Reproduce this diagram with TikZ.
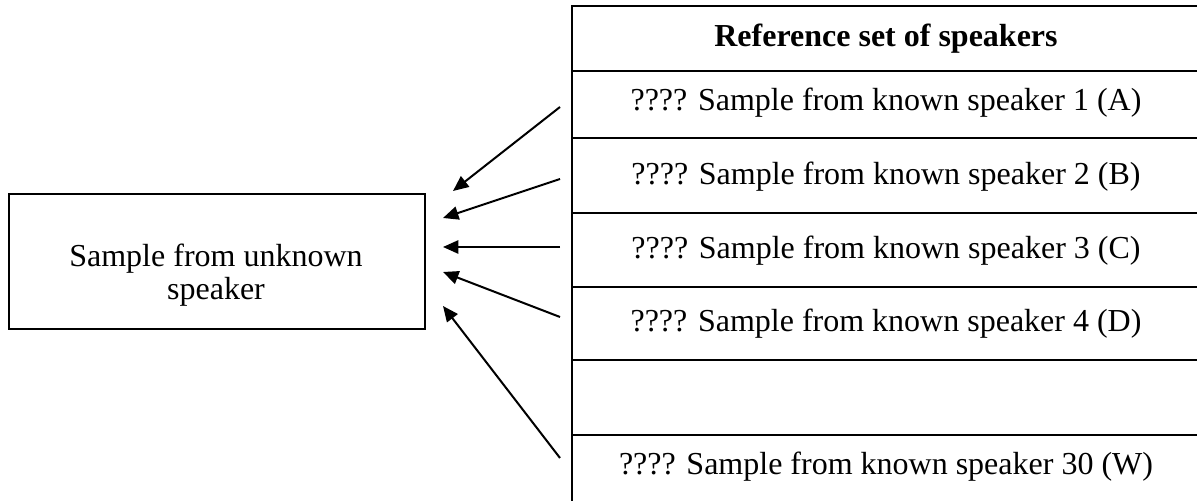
\documentclass[tikz,border=0pt]{standalone}
\usepackage{fontspec}
\setmainfont{Liberation Serif}
\usetikzlibrary{arrows.meta}
\begin{document}
\begin{tikzpicture}[x=0.375pt,y=-0.375pt,
  every node/.style={font=\fontsize{12}{12.6}\selectfont, inner sep=0pt},
  grid/.style={line width=0.9pt},
  boxline/.style={draw, line width=0.85pt},
  conn/.style={line width=0.75pt, -{Triangle[length=5.8pt,width=5pt]}},
  celltext/.style={anchor=base},
]
\useasboundingbox (0,0) rectangle (1197,501);
\fill[white] (0,0) rectangle (1197,501);
% reference table
\draw[grid] (1200,6) -- (572,6) -- (572,510);
\foreach \y in {71,138,213,287,360,435} \draw[grid] (572,\y) -- (1200,\y);
\draw[grid] (1200,6) -- (1200,510);
\node[celltext, font=\fontsize{12}{12.6}\selectfont\bfseries] (hdr) at (886,47) {Reference set of speakers};
\node[celltext] (ra) at (886,111) {???? Sample from known speaker 1 (A)};
\node[celltext] (rb) at (886,185) {???? Sample from known speaker 2 (B)};
\node[celltext] (rc) at (886,259) {???? Sample from known speaker 3 (C)};
\node[celltext] (rd) at (886,332) {???? Sample from known speaker 4 (D)};
\node[celltext] (rw) at (886,475) {???? Sample from known speaker 30 (W)};
% unknown sample box
\node[boxline, anchor=north west, minimum width=156pt, minimum height=50.6pt] (ubox) at (8,193) {};
\node[align=center] (utext) at (216,275) {Sample from unknown\\speaker};
% connectors
\coordinate (s1) at (560,107); \coordinate (e1) at (453,191);
\coordinate (s2) at (560,179); \coordinate (e2) at (443,218);
\coordinate (s3) at (560,247); \coordinate (e3) at (443,247);
\coordinate (s4) at (560,317); \coordinate (e4) at (443,272);
\coordinate (s5) at (560,458); \coordinate (e5) at (443,306);
\foreach \i in {1,...,5} \draw[conn] (s\i) -- (e\i);
\end{tikzpicture}
\end{document}
